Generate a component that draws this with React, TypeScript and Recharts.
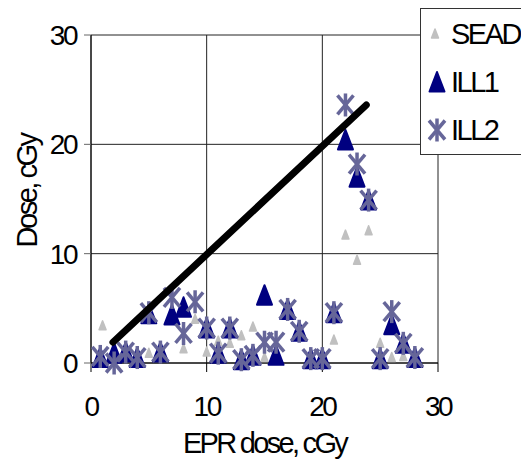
import React from "react";
import {
  ScatterChart,
  Scatter,
  XAxis,
  YAxis,
  CartesianGrid,
  Label,
} from "recharts";

const sead = [
  { x: 1, y: 3.4 },
  { x: 5, y: 0.9 },
  { x: 8, y: 1.3 },
  { x: 9, y: 4.0 },
  { x: 10, y: 1.0 },
  { x: 11, y: 2.0 },
  { x: 12, y: 1.8 },
  { x: 13, y: 2.5 },
  { x: 14, y: 3.3 },
  { x: 15, y: 0.5 },
  { x: 21, y: 2.1 },
  { x: 22, y: 11.7 },
  { x: 23, y: 9.4 },
  { x: 24, y: 12.1 },
  { x: 25, y: 1.8 },
  { x: 26, y: 0.5 },
  { x: 27, y: 0.6 },
];

const ill1 = [
  { x: 0.8, y: 0.5 },
  { x: 2, y: 0.9 },
  { x: 3, y: 1.0 },
  { x: 4, y: 0.5 },
  { x: 5, y: 4.5 },
  { x: 6, y: 1.0 },
  { x: 7, y: 4.4 },
  { x: 8, y: 5.1 },
  { x: 10, y: 3.2 },
  { x: 11, y: 0.9 },
  { x: 12, y: 3.2 },
  { x: 13, y: 0.3 },
  { x: 14, y: 0.7 },
  { x: 15, y: 6.2 },
  { x: 16, y: 0.7 },
  { x: 17, y: 4.9 },
  { x: 18, y: 2.9 },
  { x: 19, y: 0.4 },
  { x: 20, y: 0.4 },
  { x: 21, y: 4.6 },
  { x: 22, y: 20.4 },
  { x: 23, y: 17.0 },
  { x: 24, y: 14.9 },
  { x: 25, y: 0.4 },
  { x: 26, y: 3.5 },
  { x: 27, y: 1.8 },
  { x: 28, y: 0.5 },
];

const ill2 = [
  { x: 0.8, y: 0.6 },
  { x: 2, y: 0 },
  { x: 3, y: 1.0 },
  { x: 4, y: 0.5 },
  { x: 5, y: 4.6 },
  { x: 6, y: 1.0 },
  { x: 7, y: 6.0 },
  { x: 8, y: 2.7 },
  { x: 9, y: 5.6 },
  { x: 10, y: 3.2 },
  { x: 11, y: 0.9 },
  { x: 12, y: 3.2 },
  { x: 13, y: 0.3 },
  { x: 14, y: 0.7 },
  { x: 15, y: 1.9 },
  { x: 16, y: 1.9 },
  { x: 17, y: 4.9 },
  { x: 18, y: 2.9 },
  { x: 19, y: 0.4 },
  { x: 20, y: 0.4 },
  { x: 21, y: 4.6 },
  { x: 22, y: 23.6 },
  { x: 23, y: 18.2 },
  { x: 24, y: 14.9 },
  { x: 25, y: 0.4 },
  { x: 26, y: 4.7 },
  { x: 27, y: 1.8 },
  { x: 28, y: 0.5 },
];

const fitLine = [
  { x: 1.9, y: 1.9 },
  { x: 23.8, y: 23.6 },
];

const ticks = [0, 10, 20, 30];

const FONT = "'Liberation Sans', Arial, sans-serif";
const NAVY = "#000080";
const SLATE = "#666699";
const GREY = "#c0c0c0";

const SmallTri = ({ cx, cy }: any) => (
  <path
    d={`M${cx},${cy - 5} L${cx + 3.5},${cy + 4} L${cx - 3.5},${cy + 4} Z`}
    fill={GREY}
    stroke={GREY}
    strokeWidth={1.5}
    strokeLinejoin="round"
  />
);

const BigTri = ({ cx, cy }: any) => (
  <path
    d={`M${cx},${cy - 10} L${cx + 7.5},${cy + 9.5} L${cx - 7.5},${cy + 9.5} Z`}
    fill={NAVY}
    stroke={NAVY}
    strokeWidth={2}
    strokeLinejoin="round"
  />
);

const Aster = ({ cx, cy }: any) => (
  <g stroke={SLATE} strokeWidth={3.5} strokeLinecap="butt">
    <line x1={cx} y1={cy - 11.5} x2={cx} y2={cy + 11.5} />
    <line x1={cx - 8} y1={cy - 9.5} x2={cx + 8} y2={cy + 9.5} />
    <line x1={cx + 8} y1={cy - 9.5} x2={cx - 8} y2={cy + 9.5} />
  </g>
);

const legendItems = [
  { name: "SEAD", Shape: SmallTri, dx: 14 },
  { name: "ILL1", Shape: BigTri, dx: 16 },
  { name: "ILL2", Shape: Aster, dx: 16 },
];

const LegendBox = () => (
  <div
    style={{
      position: "absolute",
      left: 420,
      top: 8,
      width: 110,
      height: 147,
      border: "1px solid #333",
      background: "#fff",
      boxSizing: "border-box",
    }}
  >
    <svg width={110} height={146} style={{ display: "block" }}>
      {legendItems.map((it, i) => (
        <g key={it.name}>
          <it.Shape cx={it.dx} cy={25 + i * 48} />
          <text
            x={30}
            y={25 + i * 48}
            dy="0.36em"
            fontFamily={FONT}
            fontSize={29}
            letterSpacing={-2.5}
            fill="#000"
          >
            {it.name}
          </text>
        </g>
      ))}
    </svg>
  </div>
);

const tickStyle = {
  fontFamily: FONT,
  fontSize: 28,
  fill: "#000",
  letterSpacing: -2.5,
};

export default function App() {
  return (
    <div
      style={{
        position: "absolute",
        left: 0,
        top: 0,
        width: 521,
        height: 460,
        overflow: "hidden",
        background: "#fff",
      }}
    >
      <ScatterChart
        width={521}
        height={460}
        margin={{ top: 35, right: 83, left: 0, bottom: 0 }}
      >
        <CartesianGrid stroke="#222" strokeWidth={1} />
        <XAxis
          type="number"
          dataKey="x"
          domain={[0, 30]}
          ticks={ticks}
          height={97}
          axisLine={{ stroke: "#000" }}
          tickLine={{ stroke: "#000" }}
          tickSize={9}
          tickMargin={24}
          tick={tickStyle}
        >
          <Label
            value="EPR dose, cGy"
            position="insideBottom"
            offset={7}
            style={{ fontFamily: FONT, fontSize: 29, letterSpacing: -2.7, fill: "#000" }}
          />
        </XAxis>
        <YAxis
          type="number"
          dataKey="y"
          domain={[0, 30]}
          ticks={ticks}
          width={91}
          axisLine={{ stroke: "#000" }}
          tickLine={{ stroke: "#666" }}
          tickSize={7}
          tickMargin={8}
          tick={tickStyle}
        >
          <Label
            value="Dose, cGy"
            position="center"
            angle={-90}
            dx={-19}
            dy={-8}
            style={{ fontFamily: FONT, fontSize: 29, letterSpacing: -2.5, fill: "#000" }}
          />
        </YAxis>
        <Scatter name="SEAD" data={sead} shape={<SmallTri />} isAnimationActive={false} />
        <Scatter name="ILL1" data={ill1} shape={<BigTri />} isAnimationActive={false} />
        <Scatter name="ILL2" data={ill2} shape={<Aster />} isAnimationActive={false} />
        <Scatter
          name="fit"
          data={fitLine}
          line={{ stroke: "#000", strokeWidth: 7, strokeLinecap: "round" } as any}
          shape={() => <g />}
          legendType="none"
          isAnimationActive={false}
        />
      </ScatterChart>
      <LegendBox />
    </div>
  );
}
